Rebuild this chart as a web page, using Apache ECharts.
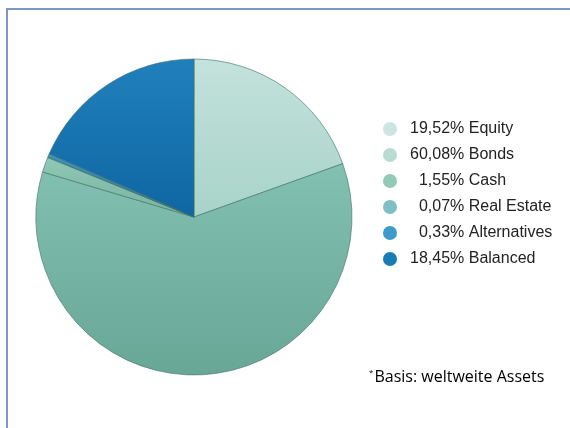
<!DOCTYPE html>
<html>
<head>
<meta charset="utf-8">
<script src="https://cdn.jsdelivr.net/npm/echarts@6/dist/echarts.min.js"></script>
<style>
  html, body { margin: 0; padding: 0; background: #fff; }
  #main { width: 570px; height: 428px; }
</style>
</head>
<body>
<div id="main"></div>
<script>
// Anteile in Prozent
var categories = ['Equity', 'Bonds', 'Cash', 'Real Estate', 'Alternatives', 'Balanced'];
var shares = [19.52, 60.08, 1.55, 0.07, 0.33, 18.45];
var dotColors = ['#cce6df', '#b8dcd2', '#93c9b7', '#80bfc3', '#3e9acb', '#1a7cb7'];
var sliceTop = ['#c3e2db', '#82c0b1', '#8fc8b4', '#7cbcc2', '#3a94c6', '#2080bb'];
var sliceBottom = ['#a8d3c8', '#68a696', '#78b39f', '#66a8b0', '#2a82b6', '#0f66a2'];
var footnote = 'Basis: weltweite Assets';

var myChart = echarts.init(document.getElementById('main'));

function fmt(v) {
    var s = v.toFixed(2).replace('.', ',') + '%';
    // Ziffernleerzeichen, damit die Prozentwerte rechtsbündig stehen
    return v < 10 ? '\u2007' + s : s;
}

var pieData = [];
for (var i = 0; i < categories.length; i++) {
    pieData.push({
        name: categories[i],
        value: shares[i],
        itemStyle: {
            color: {
                type: 'linear', x: 0, y: 0, x2: 0, y2: 1,
                colorStops: [{offset: 0, color: sliceTop[i]}, {offset: 1, color: sliceBottom[i]}]
            }
        }
    });
}

option = {
    backgroundColor: '#fff',
    animation: false,
    color: dotColors,
    legend: {
        orient: 'vertical',
        left: 378,
        top: 116,
        icon: 'circle',
        itemWidth: 14,
        itemHeight: 14,
        itemGap: 10,
        selectedMode: false,
        itemStyle: {borderWidth: 0},
        data: categories.map(function (c, i) {
            return {name: c, itemStyle: {color: dotColors[i], borderWidth: 0}};
        }),
        formatter: function (name) {
            var idx = categories.indexOf(name);
            return fmt(shares[idx]) + ' ' + name;
        },
        textStyle: {
            fontFamily: 'Liberation Sans',
            fontSize: 16,
            color: '#222',
            padding: [0, 0, 0, 8]
        }
    },
    graphic: [
        {type: 'line', shape: {x1: 6, y1: 9, x2: 570, y2: 9}, style: {stroke: '#7a97c8', lineWidth: 2}},
        {type: 'line', shape: {x1: 7, y1: 8, x2: 7, y2: 428}, style: {stroke: '#7a97c8', lineWidth: 2}},
        {
            type: 'text', left: 369, top: 369,
            style: {
                text: '{s|*}{t|' + footnote + '}',
                rich: {
                    s: {fontFamily: 'Open Sans', fontSize: 8, color: '#333', verticalAlign: 'top', padding: [0, 1, 9, 0]},
                    t: {fontFamily: 'Open Sans', fontSize: 16, color: '#333'}
                }
            }
        }
    ],
    series: [{
        type: 'pie',
        center: [194, 217],
        radius: [0, 158],
        startAngle: 90,
        clockwise: true,
        label: {show: false},
        labelLine: {show: false},
        emphasis: {disabled: true},
        itemStyle: {borderColor: '#3f6f67', borderWidth: 0.6},
        data: pieData
    }]
};

myChart.setOption(option);
</script>
</body>
</html>
